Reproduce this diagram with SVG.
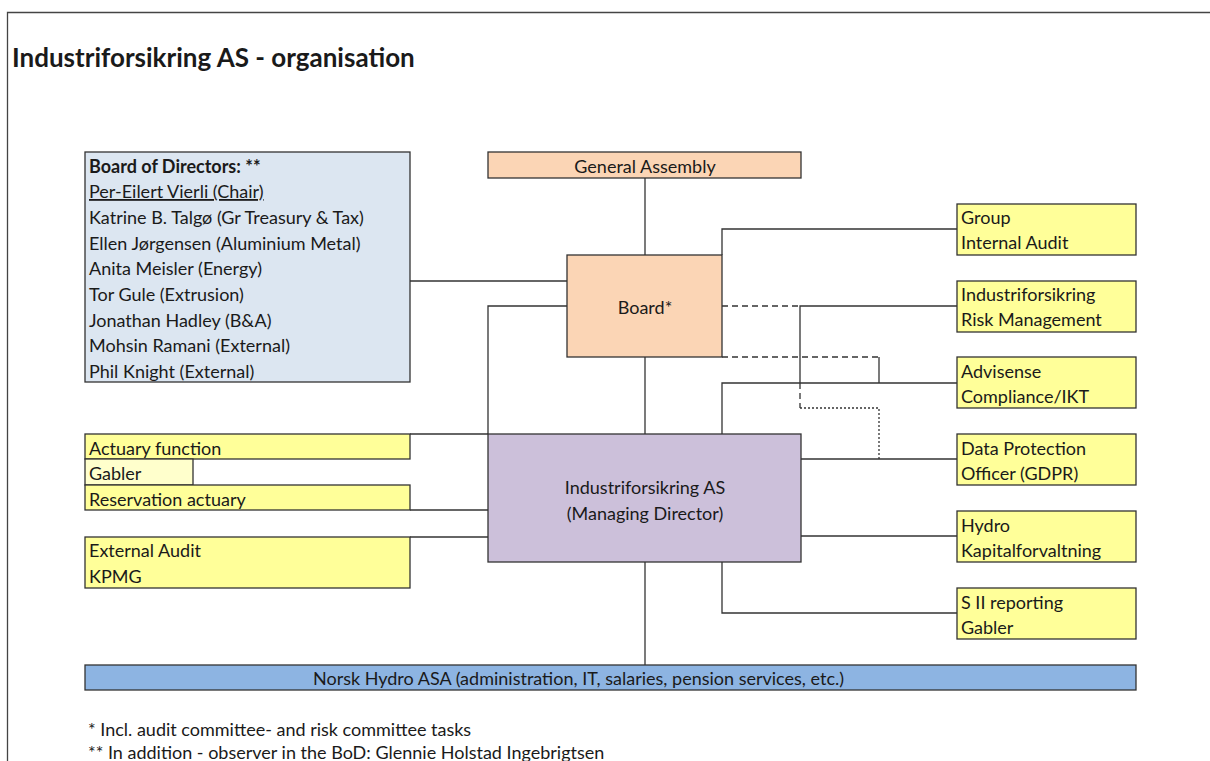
<svg xmlns="http://www.w3.org/2000/svg" width="1210" height="761" viewBox="0 0 1210 761">
<style>
text{font-family:Lato,"Open Sans","Liberation Sans",sans-serif;font-size:18px;fill:#1a1a1a}
.t{font-size:26px;font-weight:bold}
.b{font-weight:bold}
.c{text-anchor:middle}
.box{stroke:#333;stroke-width:1.3}
.y{fill:#FFFF99}
.ly{fill:#FFFFCC}
.pe{fill:#FBD5B5}
.bl{fill:#DCE6F1}
.pu{fill:#CCC0DA}
.nb{fill:#8DB4E2}
.ln{fill:none;stroke:#333;stroke-width:1.3}
.da{stroke-dasharray:6,4}
.do{stroke-dasharray:2,2}
</style>
<rect width="1210" height="761" fill="#fff"/>
<path d="M1210,12.5 H7.5 V761" fill="none" stroke="#444" stroke-width="1.3"/>
<text class="t" x="12" y="67">Industriforsikring AS - organisation</text>

<g id="connectors">
<path class="ln" d="M645,178 V255"/>
<path class="ln" d="M645,357 V434"/>
<path class="ln" d="M410,281 H567"/>
<path class="ln" d="M567,306 H488 V434"/>
<path class="ln" d="M410,434 H488"/>
<path class="ln" d="M410,510 H488"/>
<path class="ln" d="M410,537 H488"/>
<path class="ln" d="M722,255 V229 H957"/>
<path class="ln da" d="M722,306 H800"/>
<path class="ln" d="M957,306 H800 V383"/>
<path class="ln da" d="M800,383 V408"/>
<path class="ln do" d="M800,408 H879 V459"/>
<path class="ln da" d="M722,357 H879"/>
<path class="ln" d="M879,357 V383"/>
<path class="ln" d="M957,383 H722 V434"/>
<path class="ln" d="M801,459 H957"/>
<path class="ln" d="M801,536 H957"/>
<path class="ln" d="M722,562 V613 H957"/>
<path class="ln" d="M645,562 V665"/>
</g>

<g id="bod">
<rect class="box bl" x="85" y="152" width="325" height="230"/>
<text class="b" x="89" y="173">Board of Directors: **</text>
<text x="89" y="198" text-decoration="underline">Per-Eilert Vierli (Chair)</text>
<text x="89" y="224">Katrine B. Talgø (Gr Treasury &amp; Tax)</text>
<text x="89" y="250">Ellen Jørgensen (Aluminium Metal)</text>
<text x="89" y="275">Anita Meisler (Energy)</text>
<text x="89" y="301">Tor Gule (Extrusion)</text>
<text x="89" y="327">Jonathan Hadley (B&amp;A)</text>
<text x="89" y="352">Mohsin Ramani (External)</text>
<text x="89" y="378">Phil Knight (External)</text>
</g>

<g id="general-assembly">
<rect class="box pe" x="488" y="152" width="313" height="26"/>
<text class="c" x="645" y="173">General Assembly</text>
</g>

<g id="board">
<rect class="box pe" x="567" y="255" width="155" height="102"/>
<text class="c" x="645" y="314">Board*</text>
</g>

<g id="industriforsikring">
<rect class="box pu" x="488" y="434" width="313" height="128"/>
<text class="c" x="645" y="494">Industriforsikring AS</text>
<text class="c" x="645" y="520">(Managing Director)</text>
</g>

<g id="group-internal-audit">
<rect class="box y" x="957" y="204" width="179" height="51"/>
<text x="961" y="224">Group</text>
<text x="961" y="249">Internal Audit</text>
</g>
<g id="risk-management">
<rect class="box y" x="957" y="281" width="179" height="51"/>
<text x="961" y="301">Industriforsikring</text>
<text x="961" y="326">Risk Management</text>
</g>
<g id="advisense">
<rect class="box y" x="957" y="357" width="179" height="51"/>
<text x="961" y="378">Advisense</text>
<text x="961" y="403">Compliance/IKT</text>
</g>
<g id="dpo">
<rect class="box y" x="957" y="434" width="179" height="51"/>
<text x="961" y="455">Data Protection</text>
<text x="961" y="480">Officer (GDPR)</text>
</g>
<g id="hydro-kapital">
<rect class="box y" x="957" y="511" width="179" height="51"/>
<text x="961" y="532">Hydro</text>
<text x="961" y="557">Kapitalforvaltning</text>
</g>
<g id="s2-reporting">
<rect class="box y" x="957" y="588" width="179" height="51"/>
<text x="961" y="609">S II reporting</text>
<text x="961" y="634">Gabler</text>
</g>

<g id="actuary-function">
<rect class="box y" x="85" y="434" width="325" height="25"/>
<text x="89" y="455">Actuary function</text>
</g>
<g id="gabler">
<rect class="box ly" x="85" y="459" width="108" height="26"/>
<text x="89" y="480">Gabler</text>
</g>
<g id="reservation-actuary">
<rect class="box y" x="85" y="485" width="325" height="25"/>
<text x="89" y="506">Reservation actuary</text>
</g>
<g id="external-audit">
<rect class="box y" x="85" y="537" width="325" height="51"/>
<text x="89" y="557">External Audit</text>
<text x="89" y="583">KPMG</text>
</g>

<g id="norsk-hydro">
<rect class="box nb" x="85" y="665" width="1051" height="25"/>
<text x="313" y="685">Norsk Hydro ASA (administration, IT, salaries, pension services, etc.)</text>
</g>

<text x="88" y="736">* Incl. audit committee- and risk committee tasks</text>
<text x="88" y="759">** In addition - observer in the BoD: Glennie Holstad Ingebrigtsen</text>
</svg>
